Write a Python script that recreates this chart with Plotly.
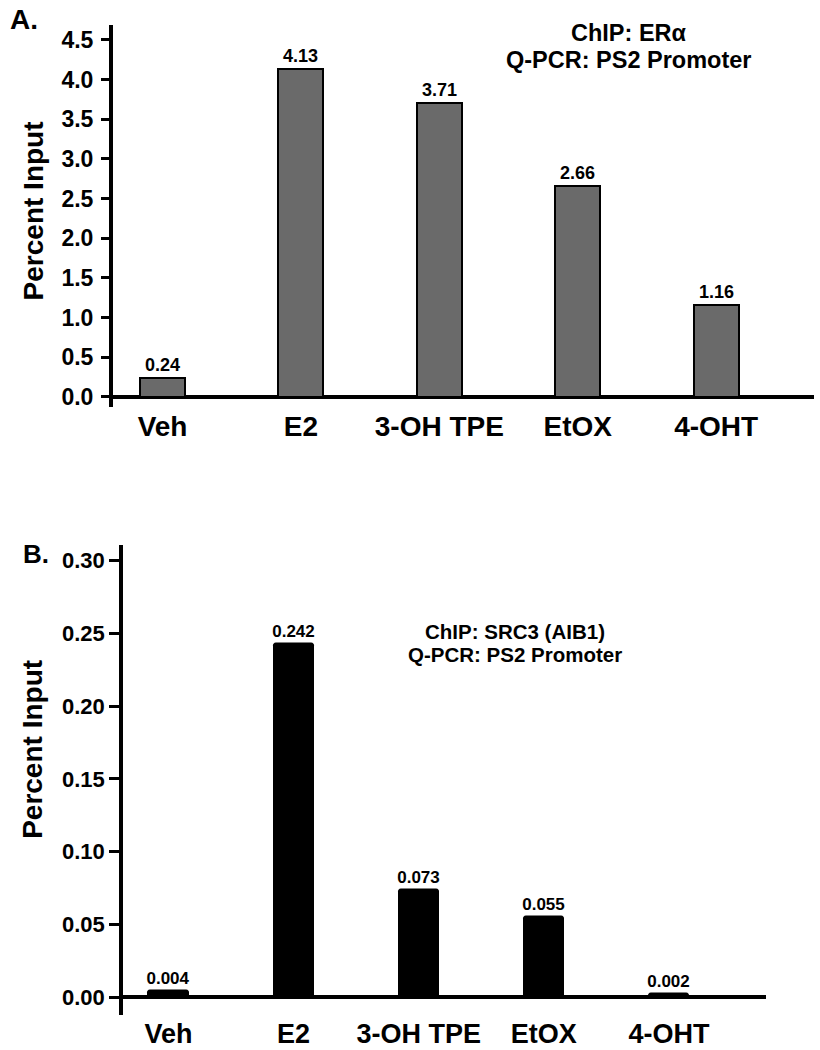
import plotly.graph_objects as go

# ---- data ----
categories = ["Veh", "E2", "3-OH TPE", "EtOX", "4-OHT"]
era_values = [0.24, 4.13, 3.71, 2.66, 1.16]
src3_values = [0.004, 0.242, 0.073, 0.055, 0.002]
era_ticks = [0.0, 0.5, 1.0, 1.5, 2.0, 2.5, 3.0, 3.5, 4.0, 4.5]
src3_ticks = [0.00, 0.05, 0.10, 0.15, 0.20, 0.25, 0.30]

W, H = 820, 1050
FONT = "Liberation Sans, Arial, Helvetica, sans-serif"


def px(x):
    return x / W


def py(y):
    return 1 - y / H


def bold(size):
    return dict(family=FONT, size=size, color="black", weight="bold")


fig = go.Figure()

fig.add_trace(go.Bar(
    x=categories, y=era_values,
    text=[f"{v:.2f}" for v in era_values],
    textposition="outside", textfont=bold(18), cliponaxis=False,
    constraintext="none",
    width=0.325,
    marker=dict(color="#6a6a6a", line=dict(color="black", width=2)),
    xaxis="x", yaxis="y", showlegend=False,
))

fig.add_trace(go.Bar(
    x=categories, y=src3_values,
    text=[f"{v:.3f}" for v in src3_values],
    textposition="outside", textfont=bold(17), cliponaxis=False,
    constraintext="none",
    width=0.305,
    marker=dict(color="black", line=dict(color="black", width=3), cornerradius=2),
    xaxis="x2", yaxis="y2", showlegend=False,
))

common_x = dict(
    type="category", showline=False, showgrid=False, zeroline=False,
    ticks="",
)

fig.update_layout(
    width=W, height=H,
    margin=dict(l=0, r=0, t=0, b=0),
    paper_bgcolor="white", plot_bgcolor="white",
    bargap=0,
    xaxis=dict(common_x, domain=[px(113), px(814)], range=[-0.358, 4.707],
               anchor="y", tickfont=bold(28)),
    yaxis=dict(domain=[py(408), py(25)], range=[-0.126, 4.689],
               anchor="x", tickvals=era_ticks,
               ticktext=[f"{t:.1f}" for t in era_ticks],
               showline=True, linecolor="black", linewidth=4,
               ticks="outside", ticklen=8, tickwidth=3, tickcolor="black",
               ticklabelstandoff=3,
               zeroline=True, zerolinecolor="black", zerolinewidth=4,
               showgrid=False, tickfont=bold(23), layer="above traces"),
    xaxis2=dict(common_x, domain=[px(123), px(766)], range=[-0.364, 4.776],
                anchor="y2", tickfont=bold(27)),
    yaxis2=dict(domain=[py(1018), py(547)], range=[-0.0123, 0.3103],
                anchor="x2", tickvals=src3_ticks,
                ticktext=[f"{t:.2f}" for t in src3_ticks],
                showline=True, linecolor="black", linewidth=3.5,
                ticks="outside", ticklen=10, tickwidth=3, tickcolor="black",
                ticklabelstandoff=0,
                zeroline=True, zerolinecolor="black", zerolinewidth=3.5,
                showgrid=False, tickfont=bold(22), layer="above traces"),
)

annotations = [
    dict(text="A.", x=px(8), y=py(20), xanchor="left", yanchor="middle", font=bold(28)),
    dict(text="B.", x=px(21), y=py(556), xanchor="left", yanchor="middle", font=bold(26)),
    dict(text="Percent Input", x=px(33), y=py(212), xanchor="center", yanchor="middle",
         textangle=-90, font=bold(28)),
    dict(text="Percent Input", x=px(33), y=py(752), xanchor="center", yanchor="middle",
         textangle=-90, font=bold(28)),
    dict(text="ChIP: ERα", x=px(629), y=py(33), xanchor="center", yanchor="middle", font=bold(23.5)),
    dict(text="Q-PCR: PS2 Promoter", x=px(629), y=py(60), xanchor="center", yanchor="middle", font=bold(23.5)),
    dict(text="ChIP: SRC3 (AIB1)", x=px(515), y=py(633), xanchor="center", yanchor="middle", font=bold(20.5)),
    dict(text="Q-PCR: PS2 Promoter", x=px(515), y=py(656), xanchor="center", yanchor="middle", font=bold(20.5)),
]
for a in annotations:
    a.update(xref="paper", yref="paper", showarrow=False)
fig.update_layout(annotations=annotations)

# the page's default 8px body margin would shift the whole chart; remove it
fig.write_html("out.html", config={"displayModeBar": False},
               post_script="document.body.style.margin='0';")
